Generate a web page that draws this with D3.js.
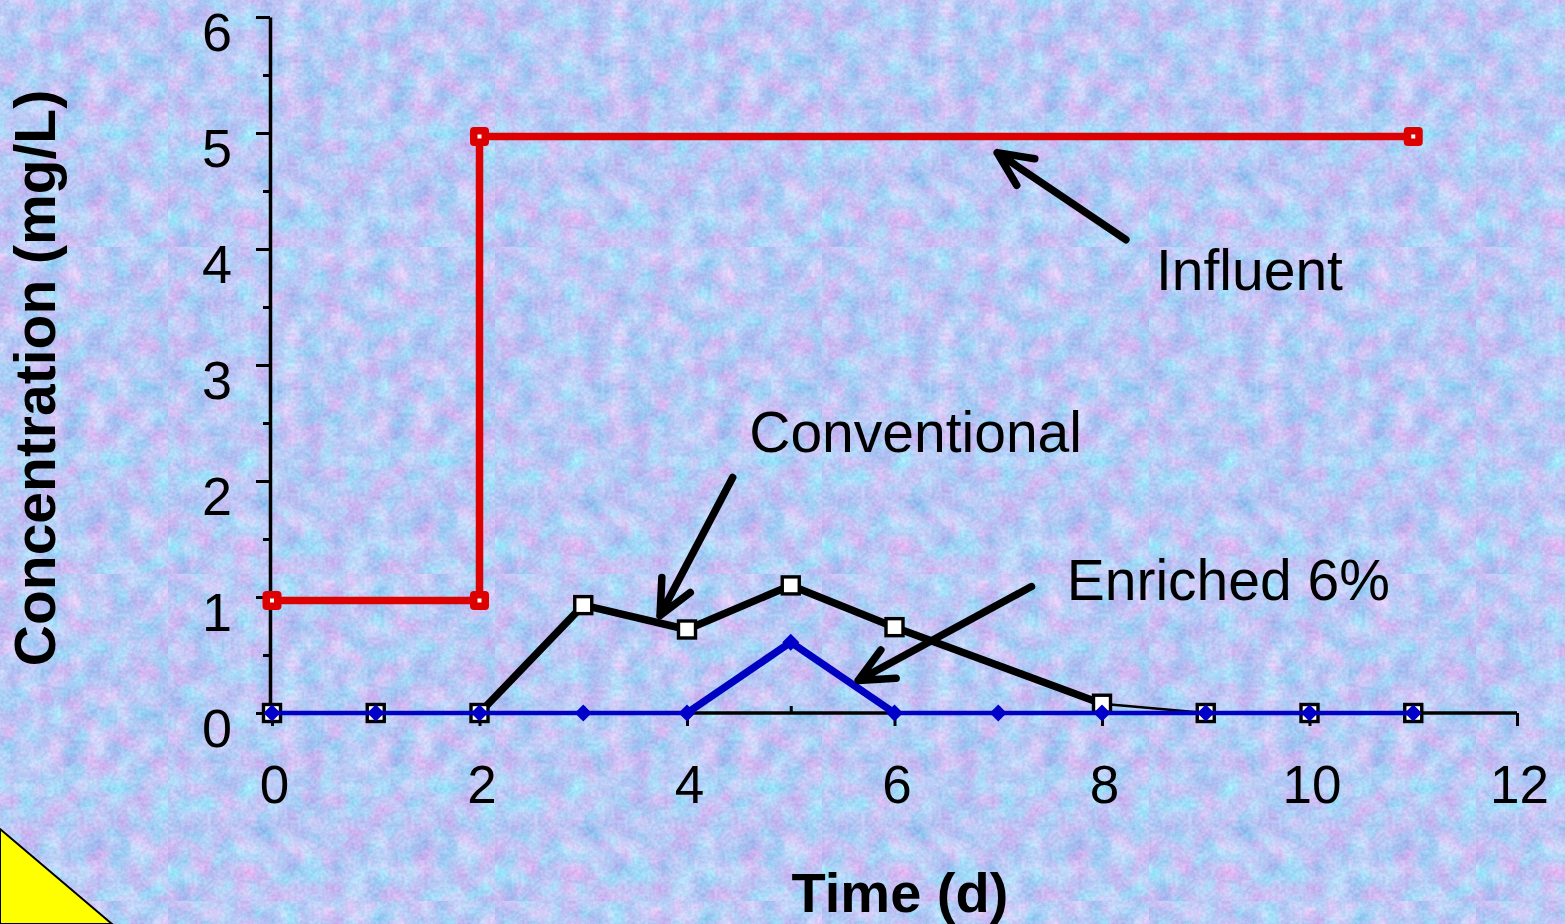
<!DOCTYPE html>
<html>
<head>
<meta charset="utf-8">
<script src="https://cdn.jsdelivr.net/npm/d3@7/dist/d3.min.js"></script>
<style>
  html, body { margin: 0; padding: 0; background: #c2d3f4; }
  svg { display: block; }
  text { font-family: "Liberation Sans", Arial, Helvetica, sans-serif; fill: #000; }
</style>
</head>
<body>
<script>
// ---- data -------------------------------------------------------------
const xTicks = [0, 2, 4, 6, 8, 10, 12];
const xMinorTicks = [1, 3, 5, 7, 9, 11];
const yTicks = [0, 1, 2, 3, 4, 5, 6];
const yMinorTicks = [0.5, 1.5, 2.5, 3.5, 4.5, 5.5];

// Influent concentration (step change on day 2)
const influentDays = [0, 2, 2, 11];
const influentConc = [0.97, 0.97, 4.97, 4.97];

// Conventional reactor effluent
const conventionalDays = [0, 1, 2, 3, 4, 5, 6, 8, 9, 10, 11];
const conventionalConc = [0, 0, 0, 0.93, 0.72, 1.10, 0.74, 0.08, 0, 0, 0];
const conventionalBreakthrough = [2, 8];

// Enriched 6% reactor effluent
const enrichedDays = [0, 1, 2, 3, 4, 5, 6, 7, 8, 9, 10, 11];
const enrichedConc = [0, 0, 0, 0, 0, 0.61, 0, 0, 0, 0, 0, 0];
const enrichedBreakthrough = [4, 6];

// callout labels with arrows (day, concentration)
const callouts = [
  { label: "Influent",     tx: 8.52, ty: 3.65, from: [8.23, 4.08], to: [6.99, 4.83] },
  { label: "Conventional", tx: 4.60, ty: 2.25, from: [4.44, 2.03], to: [3.74, 0.84] },
  { label: "Enriched 6%",  tx: 7.66, ty: 0.97, from: [7.32, 1.09], to: [5.65, 0.28] }
];

// ---- layout -----------------------------------------------------------
const W = 1565, H = 924;
const x = d3.scaleLinear().domain([0, 12]).range([272, 1517]);
const y = d3.scaleLinear().domain([0, 6]).range([713, 17]);

const svg = d3.select("body").append("svg")
  .attr("width", W).attr("height", H)
  .attr("viewBox", `0 0 ${W} ${H}`);

// ---- tissue-paper background -----------------------------------------
const defs = svg.append("defs");
const f = defs.append("filter").attr("id", "paperTex")
  .attr("x", 0).attr("y", 0).attr("width", 1).attr("height", 1)
  .attr("color-interpolation-filters", "sRGB");
f.append("feTurbulence").attr("type", "fractalNoise")
  .attr("baseFrequency", 0.045).attr("numOctaves", 5).attr("seed", 7).attr("result", "blot");
f.append("feColorMatrix").attr("in", "blot").attr("type", "matrix")
  .attr("values", [
    0.45, 0.10, 0, 0, 0.45,
    -0.12, 0.26, 0, 0, 0.72,
    0, 0.08, 0, 0, 0.92,
    0, 0, 0, 0, 1
  ].join(" ")).attr("result", "tint");
f.append("feTurbulence").attr("type", "fractalNoise")
  .attr("baseFrequency", 0.3).attr("numOctaves", 2).attr("seed", 11).attr("result", "fine");
f.append("feColorMatrix").attr("in", "fine").attr("type", "matrix")
  .attr("values", [
    1, 0, 0, 0, 0,
    1, 0, 0, 0, 0,
    1, 0, 0, 0, 0,
    0, 0, 0, 0, 1
  ].join(" ")).attr("result", "grain");
f.append("feComposite").attr("in", "tint").attr("in2", "grain")
  .attr("operator", "arithmetic")
  .attr("k1", 0).attr("k2", 1).attr("k3", 0.14).attr("k4", -0.07);

const tile = 327;
const pat = defs.append("pattern").attr("id", "paper")
  .attr("patternUnits", "userSpaceOnUse")
  .attr("x", 168).attr("y", 247)
  .attr("width", tile).attr("height", tile);
pat.append("rect").attr("width", tile).attr("height", tile)
  .attr("filter", "url(#paperTex)");

svg.append("rect").attr("width", W).attr("height", H).attr("fill", "url(#paper)");

// corner flag
svg.append("path")
  .attr("d", "M0,829 L112,924 L0,924 Z")
  .attr("fill", "#ffff00").attr("stroke", "#000").attr("stroke-width", 2);

// ---- axes -------------------------------------------------------------
const axisX0 = x(0) - 2;
const axisColor = "#000";

const gx = svg.append("g").attr("transform", `translate(0,${y(0)})`)
  .call(d3.axisBottom(x).tickValues(xTicks).tickSize(13).tickSizeOuter(0).tickPadding(39)
    .tickFormat(d3.format("d")));
gx.select(".domain").attr("d", `M${axisX0},0H${x(12)}`);
const gxm = svg.append("g").attr("transform", `translate(0,${y(0)})`)
  .call(d3.axisBottom(x).tickValues(xMinorTicks).tickSize(-7).tickFormat(""));
gxm.select(".domain").remove();

const gy = svg.append("g").attr("transform", `translate(${axisX0},0)`)
  .call(d3.axisLeft(y).tickValues(yTicks).tickSize(14).tickSizeOuter(0).tickPadding(23)
    .tickFormat(d3.format("d")));
const gym = svg.append("g").attr("transform", `translate(${axisX0},0)`)
  .call(d3.axisLeft(y).tickValues(yMinorTicks).tickSize(7).tickFormat(""));
gym.select(".domain").remove();

[gx, gxm, gy, gym].forEach(g => {
  g.selectAll(".domain").attr("stroke", axisColor).attr("stroke-width", 3.5);
  g.selectAll(".tick line").attr("stroke", axisColor).attr("stroke-width", 3);
});
gx.selectAll(".tick text")
  .attr("font-size", 53).attr("dx", 2).attr("fill", "#000")
  .attr("font-family", "'Liberation Sans', Arial, sans-serif");
gy.selectAll(".tick text")
  .attr("font-size", 54).attr("dy", 33).attr("dx", -1).attr("fill", "#000")
  .attr("font-family", "'Liberation Sans', Arial, sans-serif");

// axis titles
svg.append("text")
  .attr("x", 900).attr("y", 912)
  .attr("text-anchor", "middle")
  .attr("font-size", 56).attr("font-weight", "bold")
  .text("Time (d)");
svg.append("text")
  .attr("transform", "translate(55,378) rotate(-90)")
  .attr("text-anchor", "middle")
  .attr("font-size", 57).attr("font-weight", "bold")
  .text("Concentration (mg/L)");

// ---- series -----------------------------------------------------------
const zip = (xs, ys) => xs.map((d, i) => [d, ys[i]]);
const line = d3.line().x(d => x(d[0])).y(d => y(d[1]));

const influent = zip(influentDays, influentConc);
const conventional = zip(conventionalDays, conventionalConc);
const enriched = zip(enrichedDays, enrichedConc);

const within = (pts, span) => pts.filter(d => d[0] >= span[0] && d[0] <= span[1]);

// influent
svg.append("path").datum(influent)
  .attr("d", line).attr("fill", "none")
  .attr("stroke", "#dd0000").attr("stroke-width", 7.5)
  .attr("stroke-linejoin", "miter");
const im = svg.append("g").selectAll("g").data(influent).join("g")
  .attr("transform", d => `translate(${x(d[0])},${y(d[1])})`);
im.append("rect").attr("x", -9.5).attr("y", -9.5).attr("width", 19).attr("height", 19)
  .attr("rx", 4).attr("fill", "#dd0000");
im.append("rect").attr("x", -2).attr("y", -2).attr("width", 4).attr("height", 4)
  .attr("fill", "#ffffff");

// conventional
svg.append("path").datum(conventional)
  .attr("d", line).attr("fill", "none")
  .attr("stroke", "#000").attr("stroke-width", 2.5)
  .attr("stroke-linejoin", "round");
svg.append("path").datum(within(conventional, conventionalBreakthrough))
  .attr("d", line).attr("fill", "none")
  .attr("stroke", "#000").attr("stroke-width", 7.5)
  .attr("stroke-linejoin", "round").attr("stroke-linecap", "round");
svg.append("g").selectAll("rect").data(conventional).join("rect")
  .attr("x", d => x(d[0]) - 8.5).attr("y", d => y(d[1]) - 8.5)
  .attr("width", 17).attr("height", 17)
  .attr("fill", "#ffffff").attr("stroke", "#000").attr("stroke-width", 3.4);

// enriched 6%
svg.append("path").datum(enriched)
  .attr("d", line).attr("fill", "none")
  .attr("stroke", "#0000c0").attr("stroke-width", 4.5);
svg.append("path").datum(within(enriched, enrichedBreakthrough))
  .attr("d", line).attr("fill", "none")
  .attr("stroke", "#0000c0").attr("stroke-width", 7.5)
  .attr("stroke-linejoin", "round").attr("stroke-linecap", "round");
svg.append("g").selectAll("path").data(enriched).join("path")
  .attr("d", d => {
    const cx = x(d[0]), cy = y(d[1]), r = 8.5;
    return `M${cx},${cy - r}L${cx + r},${cy}L${cx},${cy + r}L${cx - r},${cy}Z`;
  })
  .attr("fill", "#0000c8");

// ---- callouts ---------------------------------------------------------
const armLen = 38, armAngle = 25 * Math.PI / 180;
const cg = svg.append("g");
callouts.forEach(c => {
  const x1 = x(c.from[0]), y1 = y(c.from[1]);
  const x2 = x(c.to[0]), y2 = y(c.to[1]);
  const back = Math.atan2(y1 - y2, x1 - x2);
  const a1 = [x2 + armLen * Math.cos(back + armAngle), y2 + armLen * Math.sin(back + armAngle)];
  const a2 = [x2 + armLen * Math.cos(back - armAngle), y2 + armLen * Math.sin(back - armAngle)];
  cg.append("path")
    .attr("d", `M${x1},${y1}L${x2},${y2}M${a1[0]},${a1[1]}L${x2},${y2}L${a2[0]},${a2[1]}`)
    .attr("fill", "none").attr("stroke", "#000").attr("stroke-width", 7.5)
    .attr("stroke-linecap", "round").attr("stroke-linejoin", "round");
  cg.append("text")
    .attr("x", x(c.tx)).attr("y", y(c.ty))
    .attr("font-size", 57)
    .text(c.label);
});
</script>
</body>
</html>
